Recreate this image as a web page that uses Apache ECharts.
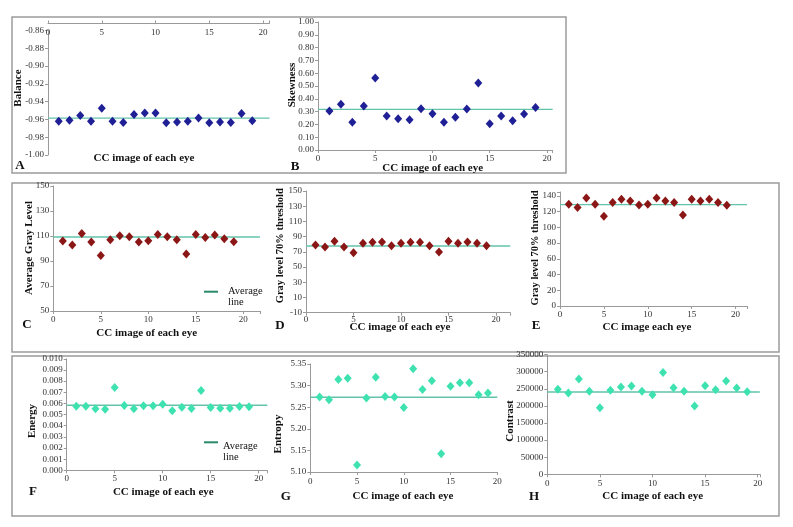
<!DOCTYPE html>
<html><head><meta charset="utf-8">
<script src="https://cdn.jsdelivr.net/npm/echarts@6/dist/echarts.min.js"></script>
<style>html,body{margin:0;padding:0;background:#fff}#c{width:793px;height:527px}</style>
</head><body><div id="c"></div>
<script>
const eyes = [1,2,3,4,5,6,7,8,9,10,11,12,13,14,15,16,17,18,19];
const balance = [-0.962,-0.961,-0.9555,-0.962,-0.9473,-0.962,-0.9634,-0.9544,-0.9529,-0.9529,-0.9637,-0.963,-0.962,-0.9585,-0.9637,-0.963,-0.9634,-0.9533,-0.9615];
const balanceAvg = -0.9585;
const skewness = [0.305,0.357,0.216,0.344,0.562,0.266,0.245,0.237,0.323,0.284,0.216,0.255,0.32,0.523,0.206,0.266,0.229,0.281,0.333];
const skewnessAvg = 0.317;
const avgGray = [106,102.8,112.1,105.2,94.5,107.1,110.3,109.5,105.2,106.3,111.3,109.5,107.1,95.6,111.3,108.9,110.8,107.9,105.5];
const avgGrayAvg = 109.2;
const gray70D = [79,76.4,83.8,76.4,68.9,81.2,82.5,82.9,78.1,81.2,82.5,82.5,78.1,69.8,83.8,81.2,82.9,81.2,78.1];
const gray70DAvg = 77.7;
const gray70E = [129.4,125.2,137.5,129.4,114.1,131.5,135.8,133.6,128.6,129.4,137.5,133.6,131.5,115.8,135.8,133.6,135.8,131.5,128.1];
const gray70EAvg = 129;
const energy = [0.00575,0.00575,0.00551,0.00548,0.00743,0.00581,0.00551,0.00578,0.00578,0.00593,0.00533,0.00566,0.00554,0.00716,0.00563,0.00557,0.00557,0.00572,0.00569];
const energyAvg = 0.00584;
const entropy = [5.2737,5.267,5.3144,5.317,5.116,5.2712,5.3195,5.2746,5.2737,5.2492,5.339,5.2907,5.311,5.142,5.2983,5.3068,5.3068,5.2788,5.283];
const entropyAvg = 5.273;
const contrast = [248400,237700,278600,242500,194800,245400,255200,258100,242500,232800,298000,253200,242500,199700,259100,247400,272700,252300,241600];
const contrastAvg = 240600;

const SERIF = '"Liberation Serif","DejaVu Serif",serif';
const BLUE = '#1f1f96', RED = '#8b1616', AQUA = '#3ee2b0', AVG = '#62c3aa';

const panels = [
  {vals: balance, avg: balanceAvg, color: BLUE, g:{left:48, top:30.5, width:221.5, height:124.5}, xmax:20.6, ymin:-1, ymax:-0.86, yint:0.02, dec:2, xTop:true},
  {vals: skewness, avg: skewnessAvg, color: BLUE, g:{left:318, top:22, width:234.7, height:128}, xmax:20.5, ymin:0, ymax:1, yint:0.1, dec:2, xm:4},
  {vals: avgGray, avg: avgGrayAvg, color: RED, g:{left:53.3, top:186, width:206.6, height:125}, xmax:21.75, ymin:50, ymax:150, yint:20, dec:0, xm:4},
  {vals: gray70D, avg: gray70DAvg, color: RED, g:{left:306, top:191, width:204.25, height:121.7}, xmax:21.5, ymin:-10, ymax:150, yint:20, dec:0, xm:2},
  {vals: gray70E, avg: gray70EAvg, color: RED, g:{left:560, top:192, width:187, height:114}, xmax:21.3, ymin:0, ymax:145, yint:20, dec:0, hideMax:true, xm:4},
  {vals: energy, avg: energyAvg, color: AQUA, g:{left:66.7, top:358.8, width:200.6, height:111.5}, xmax:20.9, ymin:0, ymax:0.010, yint:0.001, dec:3, xm:4},
  {vals: entropy, avg: entropyAvg, color: AQUA, g:{left:310.3, top:364, width:187, height:108}, xmax:20, ymin:5.10, ymax:5.35, yint:0.05, dec:2, xm:5},
  {vals: contrast, avg: contrastAvg, color: AQUA, g:{left:547.3, top:354.6, width:212.5, height:119.7}, xmax:20.2, ymin:0, ymax:350000, yint:50000, dec:0, xm:5}
];

const grid = [], xAxis = [], yAxis = [], series = [];
const axisLineStyle = {lineStyle:{color:'#9a9a9a', width:1}};
panels.forEach((p, i) => {
  grid.push(Object.assign({containLabel:false}, p.g));
  xAxis.push({
    type:'value', gridIndex:i, min:0, max:p.xmax, interval:5,
    position: p.xTop ? 'top' : 'bottom', offset: p.xTop ? 7 : 0,
    axisLine: Object.assign({onZero:false, show:true}, axisLineStyle),
    axisTick:{show:true, length:3, lineStyle:{color:'#9a9a9a'}},
    splitLine:{show:false},
    axisLabel:{inside: !!p.xTop, margin: p.xTop ? 5 : p.xm, fontFamily:SERIF, fontSize:9, color:'#333',
      formatter: v => (Math.abs(v % 5) < 1e-9 ? String(v) : '')}
  });
  yAxis.push({
    type:'value', gridIndex:i, min:p.ymin, max:p.ymax, interval:p.yint,
    axisLine:Object.assign({show:true, onZero:false}, axisLineStyle),
    axisTick:{show:true, length:3, lineStyle:{color:'#9a9a9a'}},
    splitLine:{show:false},
    axisLabel:{margin:4, fontFamily:SERIF, fontSize:9, color:'#333',
      formatter: v => {
        if (p.hideMax && v > 140) return '';
        return p.dec ? v.toFixed(p.dec) : String(Math.round(v));
      }}
  });
  series.push({
    type:'line', xAxisIndex:i, yAxisIndex:i, z:1, silent:true, symbol:'none',
    lineStyle:{color:AVG, width:1.4},
    data:[[0, p.avg], [p.xmax, p.avg]]
  });
  series.push({
    type:'scatter', xAxisIndex:i, yAxisIndex:i, z:3,
    symbol:'diamond', symbolSize:[8,9],
    itemStyle:{color:p.color, opacity:1},
    data: eyes.map((e, k) => [e, p.vals[k]])
  });
});

function txt(t, x, y, opts) {
  opts = opts || {};
  return {type:'text', x:x, y:y, rotation: opts.rot ? Math.PI/2 : 0, z:10,
    style:{text:t, font:(opts.bold===false?'':'bold ') + (opts.size||11) + 'px ' + SERIF,
      fill:'#111', align:opts.align||'center', verticalAlign:'middle',
      textAlign:opts.align||'center', textVerticalAlign:'middle'}};
}
function frame(x, y, w, h) {
  return {type:'rect', shape:{x:x, y:y, width:w, height:h}, z:0,
    style:{fill:'none', stroke:'#9c9c9c', lineWidth:1.5}};
}
const xt = 'CC image of each eye';
const graphic = [
  frame(12,17,554,156), frame(12,183,767,169), frame(12,356,767,160),
  txt(xt,144,158.5), txt('Balance',18,88,{rot:true}), txt('A',20,166,{size:13}),
  txt(xt,432.7,168), txt('Skewness',291.7,85,{rot:true}), txt('B',295,167,{size:13}),
  txt(xt,146.7,333.5), txt('Average Gray Level',29,248,{rot:true}), txt('C',27,325,{size:13}),
  txt(xt,400,327.5), txt('Gray level 70% threshold',280,245.7,{rot:true,size:10.5}), txt('D',280,325.7,{size:13}),
  txt('CC image each eye',647,327), txt('Gray level 70% threshold',535,248,{rot:true,size:10.5}), txt('E',536,325.7,{size:13}),
  txt(xt,163.3,492), txt('Energy',31.7,421,{rot:true}), txt('F',33,492,{size:13}),
  txt(xt,403,496), txt('Entropy',278.3,434,{rot:true}), txt('G',285.7,496.7,{size:13}),
  txt(xt,652.7,496), txt('Contrast',510,421,{rot:true}), txt('H',534,497,{size:13}),
  {type:'line', shape:{x1:204,y1:291.7,x2:218,y2:291.7}, style:{stroke:'#2a8a6a', lineWidth:2}, z:10},
  txt('Average',228,291.7,{bold:false,size:10.5,align:'left'}), txt('line',228,302.5,{bold:false,size:10.5,align:'left'}),
  {type:'line', shape:{x1:204,y1:442.3,x2:218,y2:442.3}, style:{stroke:'#2a8a6a', lineWidth:2}, z:10},
  txt('Average',223,446.7,{bold:false,size:10.5,align:'left'}), txt('line',223,457.7,{bold:false,size:10.5,align:'left'})
];

const chart = echarts.init(document.getElementById('c'), null, {renderer:'canvas'});
chart.setOption({animation:false, backgroundColor:'#fff', grid, xAxis, yAxis, series, graphic});
</script>
</body></html>
